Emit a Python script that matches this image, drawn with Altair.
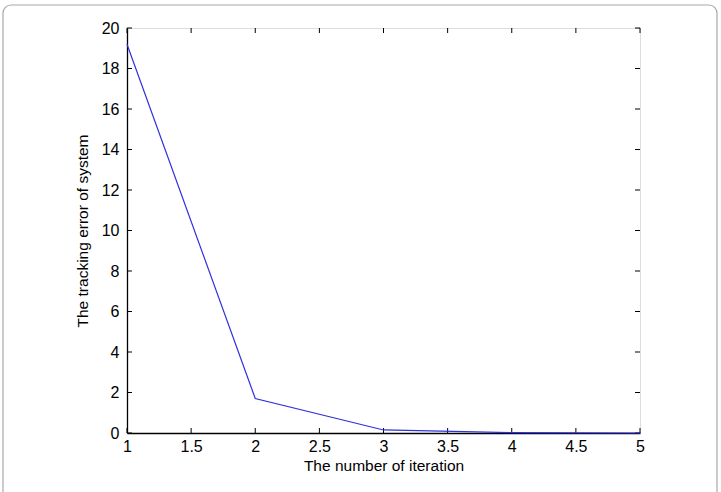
import altair as alt
import pandas as pd

iterations = [1, 2, 3, 4, 5]
errors = [19.2, 1.7, 0.15, 0.02, 0.0]
x_ticks = [1, 1.5, 2, 2.5, 3, 3.5, 4, 4.5, 5]
y_ticks = [0, 2, 4, 6, 8, 10, 12, 14, 16, 18, 20]

W, H = 513, 405
df = pd.DataFrame({"iter": iterations, "err": errors})
xt = pd.DataFrame({"v": x_ticks})
yt = pd.DataFrame({"v": y_ticks})

xs = alt.Scale(domain=[1, 5], nice=False, zero=False)
ys = alt.Scale(domain=[0, 20], nice=False)

font = "Liberation Sans"

line = alt.Chart(df).mark_line(color="#3030dd", strokeWidth=1.2).encode(
    x=alt.X("iter:Q", scale=xs,
            axis=alt.Axis(values=x_ticks, format="~g", title="The number of iteration", tickSize=0,
                          labelPadding=5, titlePadding=4, labelFontSize=16, titleFontSize=15.5,
                          labelFont=font, titleFont=font, titleFontWeight="normal",
                          labelColor="black", titleColor="black", domainColor="black",
                          domainWidth=1.3, grid=False, labelFlush=False)),
    y=alt.Y("err:Q", scale=ys,
            axis=alt.Axis(values=y_ticks, format="~g", title="The tracking error of system", tickSize=0,
                          labelPadding=8, titlePadding=11, labelFontSize=16, titleFontSize=15.5,
                          labelFont=font, titleFont=font, titleFontWeight="normal",
                          labelColor="black", titleColor="black", domainColor="black",
                          domainWidth=1.3, grid=False, labelFlush=False)),
)

tick_bottom = alt.Chart(xt).mark_rule(color="black", strokeWidth=1).encode(
    x=alt.X("v:Q", scale=xs), y=alt.value(H), y2=alt.value(H - 5))
tick_top = alt.Chart(xt).mark_rule(color="black", strokeWidth=1).encode(
    x=alt.X("v:Q", scale=xs), y=alt.value(0), y2=alt.value(5))
tick_left = alt.Chart(yt).mark_rule(color="black", strokeWidth=1).encode(
    y=alt.Y("v:Q", scale=ys), x=alt.value(0), x2=alt.value(5))
tick_right = alt.Chart(yt).mark_rule(color="black", strokeWidth=1).encode(
    y=alt.Y("v:Q", scale=ys), x=alt.value(W), x2=alt.value(W - 5))

frame = alt.Chart(pd.DataFrame({"a": [0]})).mark_rect(
    fill=None, stroke="#a8a8a8", strokeWidth=1.2, cornerRadius=8, clip=False
).encode(x=alt.value(-124), x2=alt.value(590), y=alt.value(-23), y2=alt.value(475))

chart = alt.layer(frame, tick_bottom, tick_top, tick_left, tick_right, line).properties(
    width=W, height=H,
    autosize=alt.AutoSizeParams(type="none"),
    padding={"left": 127, "top": 28, "right": 81, "bottom": 59},
).configure_view(stroke="black", strokeWidth=1.3).configure(background="white")

chart.save("out.html", embed_options={"renderer": "svg", "actions": False})
